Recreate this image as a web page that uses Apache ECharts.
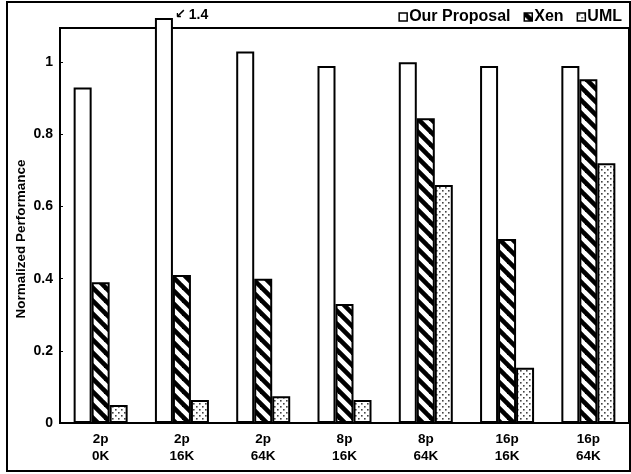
<!DOCTYPE html>
<html>
<head>
<meta charset="utf-8">
<script src="https://cdn.jsdelivr.net/npm/echarts@6/dist/echarts.min.js"></script>
<style>
  body { margin: 0; background: #fff; }
  #chart { width: 631px; height: 474px; }
</style>
</head>
<body>
<div id="chart"></div>
<script>
  var categories = ['2p\n0K', '2p\n16K', '2p\n64K', '8p\n16K', '8p\n64K', '16p\n16K', '16p\n64K'];
  var ourProposal = [0.93, 1.4, 1.03, 0.99, 1.0, 0.99, 0.99];
  var xen = [0.39, 0.41, 0.4, 0.33, 0.845, 0.51, 0.953];
  var uml = [0.05, 0.064, 0.074, 0.064, 0.66, 0.153, 0.72];
  var yTicks = [0, 0.2, 0.4, 0.6, 0.8, 1];

  var font = 'Liberation Sans, Arial, sans-serif';

  // diagonal hatch for Xen
  function hatchPattern() {
    var n = 13;
    var c = document.createElement('canvas');
    c.width = n; c.height = n;
    var g = c.getContext('2d');
    g.fillStyle = '#fff';
    g.fillRect(0, 0, n, n);
    g.strokeStyle = '#000';
    g.lineWidth = 4.6;
    [-n, 0, n].forEach(function (k) {
      g.beginPath();
      g.moveTo(k - 2, -2);
      g.lineTo(k + n + 2, n + 2);
      g.stroke();
    });
    return c;
  }
  // dots for UML
  function dotPattern() {
    var c = document.createElement('canvas');
    c.width = 6; c.height = 6;
    var g = c.getContext('2d');
    g.fillStyle = '#fff';
    g.fillRect(0, 0, 6, 6);
    g.fillStyle = '#444';
    g.fillRect(1, 1, 1.6, 1.6);
    g.fillRect(4, 4, 1.6, 1.6);
    return c;
  }

  var opData = ourProposal.map(function (v, i) {
    if (v > 1.1) {
      return {
        value: v,
        label: {
          show: true,
          position: [20, -3],
          align: 'left',
          verticalAlign: 'middle',
          formatter: '{a|↙}{b|' + v + '}',
          rich: {
            a: { fontFamily: 'DejaVu Sans', fontWeight: 'bold', fontSize: 13, color: '#000' },
            b: { fontFamily: font, fontWeight: 'bold', fontSize: 14, color: '#000', padding: [0, 0, 0, 3] }
          }
        }
      };
    }
    return v;
  });

  var myChart = echarts.init(document.getElementById('chart'));
  var option = {
    animation: false,
    graphic: [{
      type: 'rect',
      shape: { x: 7, y: 2, width: 623, height: 469 },
      style: { fill: 'none', stroke: '#000', lineWidth: 2 },
      z: 100
    }],
    legend: {
      data: ['Our Proposal', 'Xen', 'UML'],
      right: 4,
      top: 4,
      icon: 'rect',
      itemWidth: 8,
      itemHeight: 8,
      itemGap: 13,
      itemStyle: { borderWidth: 1.5, borderColor: '#000' },
      textStyle: { fontFamily: font, fontWeight: 'bold', fontSize: 16, color: '#000', padding: [0, 0, 0, -3] }
    },
    grid: [
      { left: 60, right: 2, top: 19, bottom: 51 },
      { left: 60, right: 2, top: 28, bottom: 51, show: true, borderColor: '#000', borderWidth: 2, backgroundColor: 'transparent' }
    ],
    xAxis: [{
      type: 'category',
      data: categories,
      gridIndex: 0,
      axisLine: { lineStyle: { color: '#000', width: 2 } },
      axisTick: { inside: true, length: 4, lineStyle: { color: '#000', width: 1.5 } },
      axisLabel: { fontFamily: font, fontWeight: 'bold', fontSize: 13.5, color: '#000', lineHeight: 17, margin: 8 }
    }, {
      type: 'category', gridIndex: 1, show: false, data: categories
    }],
    yAxis: [{
      type: 'value',
      gridIndex: 0,
      min: 0,
      max: 1.12,
      interval: 0.2,
      name: 'Normalized Performance',
      nameLocation: 'middle',
      nameRotate: 90,
      nameGap: 32,
      nameMoveOverlap: false,
      nameTextStyle: { fontFamily: font, fontWeight: 'bold', fontSize: 13.5, color: '#000', padding: [0, 36, 0, 0] },
      axisLine: { show: false },
      axisTick: { show: true, inside: true, length: 3, lineStyle: { color: '#000', width: 1 } },
      splitLine: { show: false },
      axisLabel: {
        showMaxLabel: false,
        margin: 7,
        fontFamily: font, fontWeight: 'bold', fontSize: 14, color: '#000',
        formatter: function (v) { return yTicks.indexOf(Math.round(v * 10) / 10) >= 0 ? String(Math.round(v * 10) / 10) : ''; }
      }
    }, {
      type: 'value', gridIndex: 1, show: false
    }],
    series: [{
      name: 'Our Proposal',
      type: 'bar',
      barWidth: 18,
      barGap: '0%',
      clip: true,
      itemStyle: { color: '#fff', borderColor: '#000', borderWidth: 2 },
      data: opData
    }, {
      name: 'Xen',
      type: 'bar',
      barWidth: 18,
      barGap: '0%',
      itemStyle: { color: { image: hatchPattern(), repeat: 'repeat' }, borderColor: '#000', borderWidth: 2 },
      data: xen
    }, {
      name: 'UML',
      type: 'bar',
      barWidth: 18,
      barGap: '0%',
      itemStyle: { color: { image: dotPattern(), repeat: 'repeat' }, borderColor: '#000', borderWidth: 2 },
      data: uml
    }]
  };
  myChart.setOption(option);
</script>
</body>
</html>
